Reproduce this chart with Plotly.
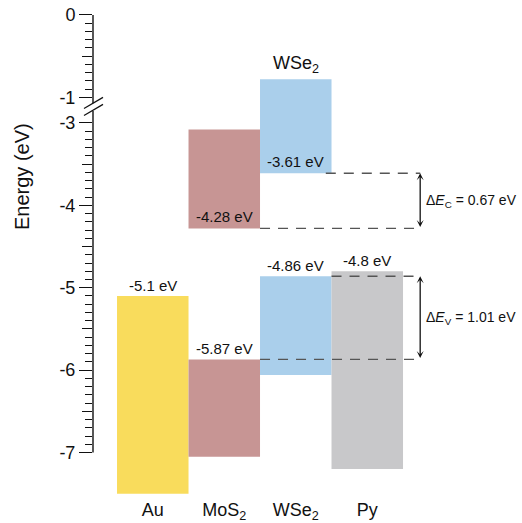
import numpy as np
import plotly.graph_objects as go

# ---- band alignment data (eV vs. vacuum) ----
materials = ["Au", "MoS<sub>2</sub>", "WSe<sub>2</sub>", "Py"]
material_colors = ["#F9DC5C", "#C79594", "#AACFEB", "#C8C8CA"]

au_wf = -5.1
mos2_cbm, mos2_vbm = -4.28, -5.87
wse2_cbm, wse2_vbm = -3.61, -4.86
py_homo = -4.8

# drawn blocks: material index, top edge, bottom edge
block_material = [0, 1, 1, 2, 2, 3]
block_top = [au_wf, -3.08, mos2_vbm, -0.78, wse2_vbm, py_homo]
block_bottom = [-7.5, mos2_cbm, -7.05, wse2_cbm, -6.06, -7.2]

# ---- broken energy axis: 0..-1 on top, -3..-7 below ----
GAP = 0.31


def t(v):
    """Map energy to the compressed plotting coordinate."""
    v = np.asarray(v, dtype=float)
    return np.where(v >= -1, v, v + 2 - GAP)


major_vals = [0, -1, -3, -4, -5, -6, -7]
half_vals = [-0.5, -3.5, -4.5, -5.5, -6.5]
fine = np.round(np.concatenate([np.arange(0, -1.01, -0.1), np.arange(-3, -7.01, -0.1)]), 2)
minor_vals = [v for v in fine if v not in major_vals and v not in half_vals]

W, H = 522, 523
ML, MR, MT, MB = 93, 0, 5, 23
PW, PH = W - ML - MR, H - MT - MB
YMAX, YMIN = 0.121, -5.886
XMIN = -0.836
XMAX = XMIN + PW / 71.5


def yp(tv):
    return (tv - YMIN) / (YMAX - YMIN)


FONT = "Liberation Sans, Arial, sans-serif"
INK = "#111111"

fig = go.Figure()

tops = t(block_top)
bottoms = t(block_bottom)
fig.add_trace(go.Bar(
    x=block_material,
    y=tops - bottoms,
    base=bottoms,
    width=1,
    marker=dict(color=[material_colors[m] for m in block_material], line=dict(width=0)),
    showlegend=False,
    hoverinfo="skip",
))

# offset dashed guides and the band-offset arrows
ARROW_X = 3.74
guides = [(wse2_cbm, 2.42), (mos2_cbm, 1.5), (wse2_vbm, 2.5), (mos2_vbm, 1.5)]
for level, x_start in guides:
    fig.add_trace(go.Scatter(
        x=[x_start, ARROW_X], y=[float(t(level))] * 2, mode="lines",
        line=dict(color="#555555", width=1.4, dash="10px,8px"),
        showlegend=False, hoverinfo="skip",
    ))

# helper trace for the mid-unit tick axis
fig.add_trace(go.Scatter(x=[None], y=[None], yaxis="y2", showlegend=False))

annotations = []

# edge labels above the block tops
for val, m in [(au_wf, 0), (mos2_vbm, 1), (wse2_vbm, 2), (py_homo, 3)]:
    annotations.append(dict(
        x=m, y=float(t(val)), xref="x", yref="y", text=f"{val:g} eV",
        showarrow=False, yanchor="bottom", xanchor="center",
        font=dict(size=15, color=INK, family=FONT),
    ))
# edge labels inside the block bottoms
for val, m in [(mos2_cbm, 1), (wse2_cbm, 2)]:
    annotations.append(dict(
        x=m, y=float(t(val)), xref="x", yref="y", text=f"{val:g} eV",
        showarrow=False, yanchor="bottom", xanchor="center", yshift=1,
        font=dict(size=15, color=INK, family=FONT),
    ))
# WSe2 heading over its conduction block
annotations.append(dict(
    x=2, y=float(t(block_top[3])), xref="x", yref="y", text="WSe<sub>2</sub>",
    showarrow=False, yanchor="bottom", xanchor="center", yshift=1,
    font=dict(size=18, color=INK, family=FONT),
))

# band offsets
dEc = round(abs(mos2_cbm - wse2_cbm), 2)
dEv = round(abs(mos2_vbm - wse2_vbm), 2)
for hi, lo, sub, dv in [(wse2_cbm, mos2_cbm, "C", dEc), (wse2_vbm, mos2_vbm, "V", dEv)]:
    annotations.append(dict(
        x=ARROW_X, y=float(t(hi)), ax=ARROW_X, ay=float(t(lo)),
        xref="x", yref="y", axref="x", ayref="y", text="",
        showarrow=True, arrowside="end+start", arrowhead=3, startarrowhead=3,
        arrowsize=0.9, startarrowsize=0.9, arrowwidth=1.3, arrowcolor=INK,
        standoff=0, startstandoff=0,
    ))
    annotations.append(dict(
        x=ARROW_X, y=float((t(hi) + t(lo)) / 2), xref="x", yref="y",
        text=f"Δ<i>E</i><sub>{sub}</sub> = {dv:.2f} eV", xshift=4,
        showarrow=False, xanchor="left", yanchor="middle",
        font=dict(size=14, color=INK, family=FONT),
    ))

# y title
annotations.append(dict(
    x=(22 - ML) / PW, y=(H - MB - 177) / PH, xref="paper", yref="paper",
    text="Energy (eV)", textangle=-90, showarrow=False,
    xanchor="center", yanchor="middle",
    font=dict(size=20, color=INK, family=FONT),
))

# axis spine with the break marks
line_style = dict(color=INK, width=1.4)
tick_px = 1 / PW
shapes = [
    dict(type="line", xref="paper", yref="paper", x0=0, x1=0,
         y0=yp(float(t(0))), y1=yp(-1.07), line=line_style),
    dict(type="line", xref="paper", yref="paper", x0=0, x1=0,
         y0=yp(-1.165), y1=yp(float(t(-7))), line=line_style),
    dict(type="line", xref="paper", yref="paper", x0=-9 * tick_px, x1=10 * tick_px,
         y0=yp(-1.135), y1=yp(-1.0), line=dict(color=INK, width=1.2)),
    dict(type="line", xref="paper", yref="paper", x0=-9 * tick_px, x1=10 * tick_px,
         y0=yp(-1.22), y1=yp(-1.085), line=dict(color=INK, width=1.2)),
]

tick_style = dict(ticks="outside", tickcolor=INK, tickwidth=1.3)
fig.update_layout(
    width=W, height=H,
    margin=dict(l=ML, r=MR, t=MT, b=MB),
    plot_bgcolor="white", paper_bgcolor="white",
    barmode="overlay",
    font=dict(family=FONT, color=INK),
    xaxis=dict(
        range=[XMIN, XMAX], tickvals=[0, 1, 2, 3], ticktext=materials,
        showline=False, showgrid=False, zeroline=False, ticks="",
        automargin=False, ticklabelstandoff=-3,
        tickfont=dict(size=18, color=INK, family=FONT),
    ),
    yaxis=dict(
        range=[YMIN, YMAX], tickvals=[float(v) for v in t(major_vals)],
        ticktext=[f"{v:g}" for v in major_vals],
        ticklen=13, showline=False, showgrid=False, zeroline=False,
        automargin=False,
        tickfont=dict(size=18, color=INK, family=FONT),
        minor=dict(tickvals=[float(v) for v in t(minor_vals)], ticklen=7,
                   ticks="outside", tickcolor=INK, tickwidth=1.3, showgrid=False),
        **tick_style,
    ),
    yaxis2=dict(
        range=[YMIN, YMAX], overlaying="y", side="left", anchor="x",
        tickvals=[float(v) for v in t(half_vals)], ticklen=10,
        showticklabels=False, showline=False, showgrid=False, zeroline=False,
        automargin=False,
        **tick_style,
    ),
    annotations=annotations,
    shapes=shapes,
)

fig.write_html("out.html")
